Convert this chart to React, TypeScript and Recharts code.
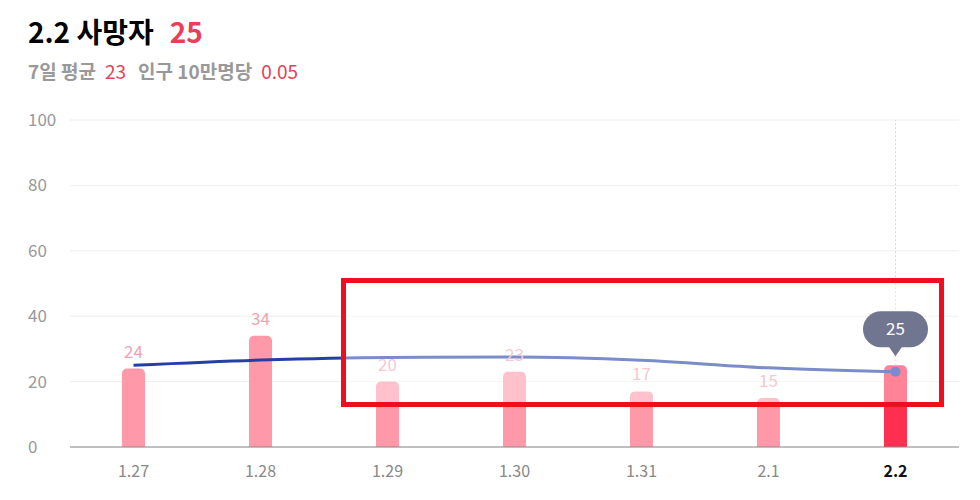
import { ComposedChart, Bar, Line, XAxis, YAxis, CartesianGrid, LabelList, Cell, ReferenceLine } from 'recharts';

const dates = ['1.27', '1.28', '1.29', '1.30', '1.31', '2.1', '2.2'];
const deaths = [24, 34, 20, 23, 17, 15, 25];
const weekAvg = [25, 26.6, 27.4, 27.5, 26.5, 24.2, 23];
const yTicks = [0, 20, 40, 60, 80, 100];

const data = dates.map((d, i) => ({ date: d, deaths: deaths[i], avg: weekAvg[i] }));

const FONT = '"Noto Sans CJK KR", "Noto Sans", sans-serif';
const lastIdx = dates.length - 1;
const chartMargin = { top: 120, right: 21, bottom: 23, left: 0 };
// 축을 숨긴 위 레이어는 축 자리만큼 여백을 직접 줌
const overlayMargin = { top: 120, right: 21, bottom: 53, left: 70 };

// y축 라벨은 왼쪽 정렬
const renderYTick = ({ y, payload }: any) => (
  <text x={28} y={y} dy={6} textAnchor="start" fontSize={17} fill="#999" fontFamily={FONT}>
    {payload.value}
  </text>
);

const renderXTick = ({ x, y, payload, index }: any) => (
  <text
    x={x}
    y={y}
    dy={22}
    textAnchor="middle"
    fontSize={16}
    fontWeight={index === lastIdx ? 700 : 400}
    fill={index === lastIdx ? '#111' : '#888'}
    fontFamily={FONT}
  >
    {payload.value}
  </text>
);

const renderBarLabel = (props: any) => {
  const { x, y, width, value, index } = props;
  if (index === lastIdx) return null;
  return (
    <text x={x + width / 2} y={y - 11} textAnchor="middle" fontSize={17} fill="#f0a3b1" fontFamily={FONT}>
      {value}
    </text>
  );
};

// 마지막 날 말풍선 (빨간 박스 위에 그림)
const renderBubble = (props: any) => {
  const { x, y, width, value, index } = props;
  if (index !== lastIdx) return null;
  const cx = x + width / 2;
  const tip = y - 9;
  const h = 36;
  const w = 65;
  const top = tip - 9 - h;
  return (
    <g>
      <rect x={cx - w / 2} y={top} width={w} height={h} rx={18} fill="#717690" />
      <path d={`M${cx - 7},${top + h - 1} L${cx},${tip} L${cx + 7},${top + h - 1} Z`} fill="#717690" />
      <text x={cx} y={top + h / 2} dy={6} textAnchor="middle" fontSize={17} fill="#fff" fontFamily={FONT}>
        {value}
      </text>
    </g>
  );
};

export default function App() {
  return (
    <div style={{ position: 'absolute', left: 0, top: 0, width: 980, height: 500, background: '#fff', fontFamily: FONT }}>
      <div style={{ position: 'absolute', left: 28, top: 11, fontSize: 28, fontWeight: 700, color: '#000', whiteSpace: 'nowrap' }}>
        2.2 사망자<span style={{ color: '#e8405a', marginLeft: 16 }}>25</span>
      </div>
      <div style={{ position: 'absolute', left: 28, top: 57, fontSize: 19, fontWeight: 700, color: '#999', whiteSpace: 'nowrap' }}>
        7일 평균<span style={{ color: '#e8405a', fontWeight: 400, marginLeft: 9 }}>23</span>
        <span style={{ marginLeft: 12 }}>인구 10만명당</span>
        <span style={{ color: '#e8405a', fontWeight: 400, marginLeft: 9 }}>0.05</span>
      </div>
      <div style={{ position: 'absolute', left: 0, top: 0 }}>
        <ComposedChart width={980} height={500} data={data} margin={chartMargin}>
          <CartesianGrid vertical={false} stroke="#eee" />
          <XAxis dataKey="date" axisLine={{ stroke: '#888' }} tickLine={false} tick={renderXTick} interval={0} />
          <YAxis width={70} domain={[0, 100]} ticks={yTicks} axisLine={false} tickLine={false} tick={renderYTick} />
          <ReferenceLine
            segment={[
              { x: dates[lastIdx], y: deaths[lastIdx] },
              { x: dates[lastIdx], y: 100 },
            ]}
            stroke="#d8d8d8"
            strokeDasharray="2 2"
          />
          <Bar dataKey="deaths" barSize={23} radius={[5, 5, 0, 0]} isAnimationActive={false}>
            {data.map((_, i) => (
              <Cell key={`c-${i}`} fill={i === lastIdx ? '#ff2f52' : '#ff98a8'} />
            ))}
            <LabelList dataKey="deaths" content={renderBarLabel} />
          </Bar>
          <Line
            type="monotone"
            dataKey="avg"
            stroke="#2440a8"
            strokeWidth={3}
            dot={(p: any) =>
              p.index === lastIdx ? <circle key="last" cx={p.cx} cy={p.cy} r={5} fill="#2440a8" /> : <g key={`d-${p.index}`} />
            }
            activeDot={false}
            isAnimationActive={false}
          />
        </ComposedChart>
      </div>
      <div
        style={{
          position: 'absolute',
          left: 341,
          top: 278,
          width: 603,
          height: 129,
          boxSizing: 'border-box',
          border: '5px solid #ec0f1f',
          background: 'rgba(255,255,255,0.4)',
        }}
      />
      <div style={{ position: 'absolute', left: 0, top: 0 }}>
        <ComposedChart width={980} height={500} data={data} margin={overlayMargin}>
          <XAxis dataKey="date" hide />
          <YAxis domain={[0, 100]} ticks={yTicks} hide />
          <Bar dataKey="deaths" barSize={23} fill="transparent" isAnimationActive={false}>
            <LabelList dataKey="deaths" content={renderBubble} />
          </Bar>
        </ComposedChart>
      </div>
    </div>
  );
}
